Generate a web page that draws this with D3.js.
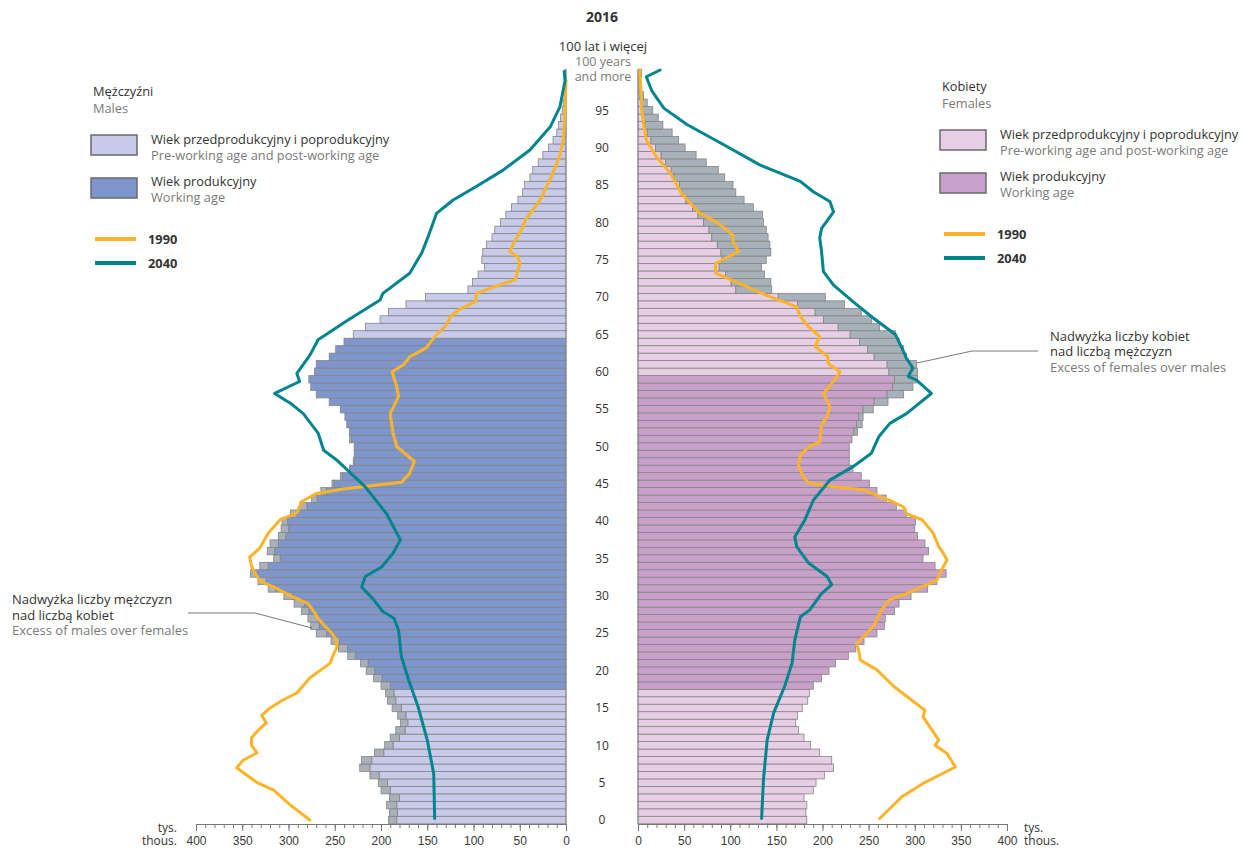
<!DOCTYPE html>
<html>
<head>
<meta charset="utf-8">
<script src="https://d3js.org/d3.v7.min.js"></script>
<style>
  body { margin: 0; background: #fff; }
  svg { font-family: "Open Sans", "Noto Sans", sans-serif; }
  .axis text { font-size: 12px; fill: #3a3a3a; }
  .axis path, .axis line { stroke: #777; }
</style>
</head>
<body>
<svg id="chart"></svg>
<script>
// population 2016, thousands, ages 0..100+
const ages = d3.range(0, 101)
const males = [192, 191, 194, 191, 200, 203, 212, 223, 221, 207,
  196, 190, 184, 179, 182, 188, 193, 195, 200, 208,
  216, 222, 236, 246, 254, 270, 276, 279, 286, 294,
  305, 322, 333, 341, 331, 316, 323, 320, 311, 308,
  307, 298, 288, 275, 265, 253, 244, 234, 230, 229,
  229, 234, 234, 237, 239, 244, 256, 270, 276, 278,
  272, 270, 256, 249, 240, 230, 217, 201, 192, 173,
  152, 106, 101, 95, 88, 91, 90, 86, 80, 77,
  71, 65, 59, 52, 47, 45, 39, 36, 30, 25,
  19, 14, 10, 8, 6, 4, 3, 2, 1.5, 1, 1]
const females = [183, 182, 183, 180, 190, 193, 202, 212, 210, 197,
  187, 180, 174, 171, 173, 178, 184, 186, 190, 199,
  207, 214, 228, 236, 245, 259, 267, 268, 278, 283,
  296, 314, 324, 334, 322, 309, 315, 311, 303, 300,
  301, 291, 280, 269, 259, 251, 242, 233, 229, 229,
  229, 232, 238, 243, 244, 255, 271, 288, 298, 303,
  303, 302, 291, 288, 283, 279, 262, 253, 242, 224,
  203, 145, 144, 137, 134, 139, 144, 143, 141, 139,
  136, 135, 125, 115, 106, 103, 94, 87, 74, 63,
  51, 44, 37, 27, 22, 16, 10, 6, 4, 3, 4]

// working age: males 18-64, females 18-59
const workMale = [18, 64]
const workFemale = [18, 59]

// comparison lines [age, thousands]
const males1990 = [[0, 277], [2, 298], [4, 316], [5, 334], [7, 356], [8, 349], [9, 334], [10, 340], [11, 340],
  [12, 333], [13, 324], [14, 329], [15, 320], [16, 307], [17, 291], [19, 277], [20, 266], [21, 255], [22, 252],
  [23, 248], [24, 248], [25, 253], [26, 261], [27, 268], [28, 273], [29, 279], [30, 298], [31, 313], [32, 331],
  [33, 336], [34, 340], [35.2, 342], [36.4, 331], [38.4, 322], [40.2, 309], [41.1, 291], [42.6, 286], [43.7, 270],
  [44.3, 241], [45.2, 178], [46.4, 169], [48, 164], [50, 183], [51.8, 187], [54.4, 190], [56.7, 181], [58, 183],
  [60, 188], [60.9, 176], [62, 169], [63.2, 151], [64.7, 142], [66.3, 129], [67.4, 125], [68.3, 116], [69.4, 98],
  [70.5, 97], [71.8, 68], [72.3, 55], [74.5, 50], [75.4, 52], [76.1, 61], [77.6, 55], [79, 48], [80.3, 44],
  [83, 28], [86.1, 16], [88.8, 7], [91, 3], [95, 1], [99, 0]]
const males2040 = [[0.2, 142], [6.2, 143], [10.7, 150], [15.2, 160], [18.7, 170], [21.9, 178], [25.4, 181],
  [27, 186], [27.9, 198], [29.5, 208], [31.2, 221], [32.6, 217], [33.9, 199], [35.7, 187], [37.5, 179],
  [41, 194], [44.6, 217], [48.2, 248], [49.5, 262], [51.8, 268], [54.4, 284], [55.8, 298], [57.1, 315],
  [58.7, 288], [59.8, 291], [62.2, 277], [64.3, 268], [66.9, 236], [69.6, 201], [70.5, 198], [73.2, 169],
  [75.9, 156], [78.1, 149], [81.2, 140], [83, 122], [84.8, 97], [87, 68], [89.7, 39], [92.8, 17], [95.5, 6.5],
  [99, 1], [100.2, 2]]
const females1990 = [[0.2, 262], [1.3, 271], [3.1, 286], [4.9, 309], [7.1, 344], [8.9, 335], [10, 322],
  [10.7, 326], [13.8, 309], [14.7, 311], [17.9, 277], [20.1, 259], [21.4, 241], [22.8, 239], [23.6, 237],
  [25.9, 255], [28.1, 264], [29.5, 273], [30.3, 291], [32.1, 324], [33, 327], [34.8, 335], [35.7, 331],
  [36.6, 326], [38.4, 320], [40.2, 308], [41, 291], [41.9, 288], [42.8, 273], [44.2, 244], [44.6, 212],
  [45.1, 185], [46, 179], [47.5, 174], [48.9, 176], [50, 186], [50.6, 197], [52.9, 199], [54, 205], [55.3, 208],
  [57.1, 201], [58.4, 210], [60, 219], [61.1, 206], [62, 206], [63.4, 192], [64.7, 197], [66, 185], [67.4, 176],
  [68.7, 172], [70.3, 138], [71.4, 118], [73.2, 84], [74.5, 84], [76.1, 109], [77.4, 103], [78.3, 103],
  [79.9, 87], [81.2, 67], [83.9, 47], [86.6, 35], [88.8, 20], [91, 9], [95, 4], [100.4, 2]]
const females2040 = [[0.2, 134], [5.4, 136], [10.7, 140], [14.3, 147], [17.9, 159], [21, 167], [24.1, 170],
  [27.2, 176], [28.1, 186], [30.3, 199], [31.5, 210], [32.6, 205], [34.4, 185], [36.6, 172], [37.9, 170],
  [40.2, 181], [42.8, 190], [45.5, 208], [47.3, 233], [49.1, 253], [51.3, 261], [53.1, 273], [54.4, 291],
  [57.1, 318], [58.9, 302], [59.4, 293], [60.5, 298], [61.8, 291], [63.2, 286], [65, 279], [67.2, 255],
  [69.4, 233], [71.6, 212], [73.4, 201], [76.1, 199], [77.9, 197], [79.2, 199], [81.4, 212], [82.8, 208],
  [84.1, 190], [85.5, 176], [87.7, 132], [90.4, 93], [93.1, 53], [95.3, 28], [97.6, 15], [99.5, 9], [100.4, 24]]

const ageTicks = d3.range(0, 100, 5)
const axisTicks = d3.range(0, 401, 50)
const minorTicks = d3.range(0, 401, 10)

const col = {
  maleLight: "#c7cbe9", maleDark: "#7e96cb",
  femLight: "#e8cee4", femDark: "#c9a0c9",
  excess: "#a8b0b9", barStroke: "#858585",
  y1990: "#fbb42a", y2040: "#00858f",
  text: "#333", sub: "#7a7a7a"
}

let width = 1243, height = 850
let svg = d3.select("#chart").attr("width", width).attr("height", height)

// scales
let xM = d3.scaleLinear().domain([0, 400]).range([566, 196])
let xF = d3.scaleLinear().domain([0, 400]).range([638, 1007])
let y = d3.scaleLinear().domain([0, 100]).range([820, 73])
let bh = y(0) - y(1)

// bars: own colour up to the smaller of the two sexes, grey for the excess
function drawSide(x, own, other, work, light, dark) {
  let g = svg.append("g")
  ages.forEach(a => {
    let base = Math.min(own[a], other[a])
    let fill = (a >= work[0] && a <= work[1]) ? dark : light
    let x0 = x(0), x1 = x(base)
    g.append("rect")
      .attr("x", Math.min(x0, x1)).attr("y", y(a) - bh / 2)
      .attr("width", Math.abs(x1 - x0)).attr("height", bh)
      .attr("fill", fill).attr("stroke", col.barStroke).attr("stroke-width", 0.8)
    if (own[a] > other[a]) {
      let x2 = x(own[a])
      g.append("rect")
        .attr("x", Math.min(x1, x2)).attr("y", y(a) - bh / 2)
        .attr("width", Math.abs(x2 - x1)).attr("height", bh)
        .attr("fill", col.excess).attr("stroke", col.barStroke).attr("stroke-width", 0.8)
    }
  })
}
drawSide(xM, males, females, workMale, col.maleLight, col.maleDark)
drawSide(xF, females, males, workFemale, col.femLight, col.femDark)

// zero lines
svg.append("line").attr("x1", xM(0)).attr("x2", xM(0)).attr("y1", y(100) - bh / 2).attr("y2", 824)
  .attr("stroke", "#888").attr("stroke-width", 1)
svg.append("line").attr("x1", xF(0)).attr("x2", xF(0)).attr("y1", y(100) - bh / 2).attr("y2", 824)
  .attr("stroke", "#888").attr("stroke-width", 1)

// 1990 / 2040 lines
function drawLine(data, x, color) {
  svg.append("path").datum(data)
    .attr("fill", "none").attr("stroke", color).attr("stroke-width", 3)
    .attr("stroke-linejoin", "round").attr("stroke-linecap", "round")
    .attr("d", d3.line().x(d => x(d[1])).y(d => y(d[0])))
}
drawLine(males1990, xM, col.y1990)
drawLine(females1990, xF, col.y1990)
drawLine(males2040, xM, col.y2040)
drawLine(females2040, xF, col.y2040)

// axes
function drawAxis(x) {
  svg.append("g").attr("class", "axis").attr("transform", "translate(0,824)")
    .call(d3.axisBottom(x).tickValues(minorTicks).tickSize(4).tickFormat(""))
  svg.append("g").attr("class", "axis").attr("transform", "translate(0,824)")
    .call(d3.axisBottom(x).tickValues(axisTicks).tickSize(7).tickPadding(5))
    .call(g => g.select(".domain").remove())
}
drawAxis(xM)
drawAxis(xF)

// age labels in the middle
svg.append("g").selectAll("text").data(ageTicks).enter().append("text")
  .attr("x", 602).attr("y", d => y(d)).attr("dy", "0.35em")
  .attr("text-anchor", "middle").attr("font-size", 12).attr("fill", col.text)
  .text(d => d)

function txt(x, yy, s, opt) {
  opt = opt || {}
  return svg.append("text").attr("x", x).attr("y", yy)
    .attr("font-size", opt.size || 12.8)
    .attr("font-weight", opt.bold ? "bold" : null)
    .attr("fill", opt.color || col.text)
    .attr("text-anchor", opt.anchor || "start")
    .text(s)
}

txt(602, 22, "2016", { size: 14, bold: true, anchor: "middle" })
txt(603, 51, "100 lat i więcej", { anchor: "middle", size: 13 })
txt(603, 66, "100 years", { anchor: "middle", color: col.sub, size: 12.5 })
txt(603, 81, "and more", { anchor: "middle", color: col.sub, size: 12.5 })

// units
txt(177, 832, "tys.", { anchor: "end", size: 12 })
txt(177, 845, "thous.", { anchor: "end", size: 12 })
txt(1024, 832, "tys.", { size: 12 })
txt(1024, 845, "thous.", { size: 12 })

// legends
function legend(x0, y0, title, sub, light, dark) {
  txt(x0, y0, title)
  txt(x0, y0 + 17, sub, { color: col.sub })
  svg.append("rect").attr("x", x0 - 2).attr("y", y0 + 39).attr("width", 46).attr("height", 20)
    .attr("fill", light).attr("stroke", "#6a6a6a").attr("stroke-width", 1.5)
  txt(x0 + 58, y0 + 48, "Wiek przedprodukcyjny i poprodukcyjny")
  txt(x0 + 58, y0 + 64, "Pre-working age and post-working age", { color: col.sub })
  svg.append("rect").attr("x", x0 - 2).attr("y", y0 + 82).attr("width", 46).attr("height", 20)
    .attr("fill", dark).attr("stroke", "#6a6a6a").attr("stroke-width", 1.5)
  txt(x0 + 58, y0 + 90, "Wiek produkcyjny")
  txt(x0 + 58, y0 + 106, "Working age", { color: col.sub })
  svg.append("line").attr("x1", x0 + 2).attr("x2", x0 + 43).attr("y1", y0 + 143).attr("y2", y0 + 143)
    .attr("stroke", col.y1990).attr("stroke-width", 4)
  txt(x0 + 55, y0 + 148, "1990", { bold: true })
  svg.append("line").attr("x1", x0 + 2).attr("x2", x0 + 43).attr("y1", y0 + 167).attr("y2", y0 + 167)
    .attr("stroke", col.y2040).attr("stroke-width", 4)
  txt(x0 + 55, y0 + 172, "2040", { bold: true })
}
legend(93, 96, "Mężczyźni", "Males", col.maleLight, col.maleDark)
legend(942, 91, "Kobiety", "Females", col.femLight, col.femDark)

// annotations
txt(12, 604, "Nadwyżka liczby mężczyzn", { size: 13 })
txt(12, 620, "nad liczbą kobiet", { size: 13 })
txt(12, 635, "Excess of males over females", { color: col.sub, size: 13 })
svg.append("polyline").attr("points", "188,613 255,613 312,628")
  .attr("fill", "none").attr("stroke", "#555").attr("stroke-width", 0.8)

txt(1050, 341, "Nadwyżka liczby kobiet", { size: 13 })
txt(1050, 356, "nad liczbą mężczyzn", { size: 13 })
txt(1050, 372, "Excess of females over males", { color: col.sub, size: 13 })
svg.append("polyline").attr("points", "1038,351 972,351 917,363")
  .attr("fill", "none").attr("stroke", "#555").attr("stroke-width", 0.8)
</script>
</body>
</html>
